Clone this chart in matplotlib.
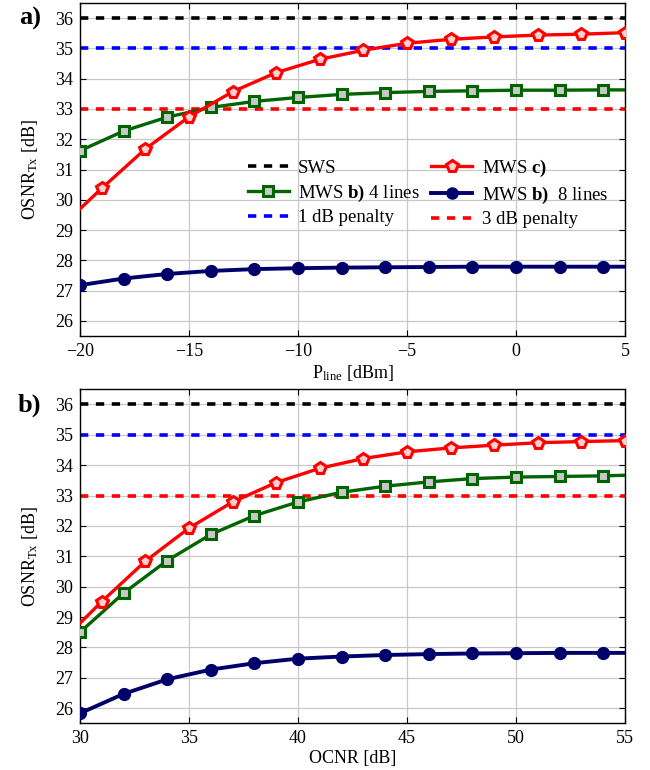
import matplotlib
matplotlib.use("Agg")
import matplotlib.pyplot as plt
from matplotlib.lines import Line2D

plt.rcParams["font.family"] = ["Liberation Serif", "DejaVu Serif"]
plt.rcParams["mathtext.fontset"] = "custom"
plt.rcParams["mathtext.rm"] = "Liberation Serif"
plt.rcParams["mathtext.bf"] = "Liberation Serif:bold"
plt.rcParams["mathtext.it"] = "Liberation Serif:italic"
plt.rcParams["font.size"] = 13

RED = "#FF0000"
GREEN = "#006400"
NAVY = "#00006B"

# reference levels (SWS, 1 dB penalty, 3 dB penalty)
sws_level = 36.0
pen1_level = 35.0
pen3_level = 33.0

# panel a) : OSNR vs launch power
a_red_x = [-20, -19, -17, -15, -13, -11, -9, -7, -5, -3, -1, 1, 3, 5]
a_red_y = [29.70, 30.38, 31.68, 32.74, 33.57, 34.20, 34.64, 34.94, 35.17, 35.30, 35.38, 35.44, 35.47, 35.52]
a_grn_x = [-20, -18, -16, -14, -12, -10, -8, -6, -4, -2, 0, 2, 4, 5]
a_grn_y = [31.62, 32.27, 32.73, 33.05, 33.25, 33.38, 33.48, 33.54, 33.58, 33.60, 33.62, 33.62, 33.63, 33.63]
a_nav_x = [-20, -18, -16, -14, -12, -10, -8, -6, -4, -2, 0, 2, 4, 5]
a_nav_y = [27.18, 27.40, 27.55, 27.65, 27.71, 27.74, 27.76, 27.77, 27.78, 27.79, 27.79, 27.79, 27.79, 27.79]

# panel b) : OSNR vs OCNR
b_red_x = [30, 31, 33, 35, 37, 39, 41, 43, 45, 47, 49, 51, 53, 55]
b_red_y = [28.80, 29.51, 30.84, 31.93, 32.79, 33.43, 33.90, 34.22, 34.44, 34.57, 34.66, 34.74, 34.78, 34.81]
b_grn_x = [30, 32, 34, 36, 38, 40, 42, 44, 46, 48, 50, 52, 54, 55]
b_grn_y = [28.50, 29.79, 30.86, 31.72, 32.34, 32.79, 33.11, 33.31, 33.45, 33.56, 33.61, 33.63, 33.65, 33.67]
b_nav_x = [30, 32, 34, 36, 38, 40, 42, 44, 46, 48, 50, 52, 54, 55]
b_nav_y = [25.83, 26.47, 26.95, 27.27, 27.48, 27.63, 27.70, 27.75, 27.78, 27.80, 27.81, 27.82, 27.82, 27.82]

a_xticks = [-20, -15, -10, -5, 0, 5]
b_xticks = [30, 35, 40, 45, 50, 55]
yticks = list(range(26, 37))

DASH = (0, (2.3, 2.1))


def style_axes(ax, xlim, xticks):
    ax.set_xlim(*xlim)
    ax.set_ylim(25.5, 36.5)
    ax.set_xticks(xticks)
    ax.set_yticks(yticks)
    ax.grid(True, color="#C8C8C8", lw=0.9)
    ax.set_axisbelow(True)
    ax.tick_params(direction="in", top=True, right=True, length=4, labelsize=13, pad=5)
    for sp in ax.spines.values():
        sp.set_linewidth(1.0)
    ax.set_ylabel(r"OSNR$_{\mathrm{Tx}}$ [dB]", labelpad=11)


def draw_panel(ax, red, grn, nav):
    dash = dict(lw=2.6, linestyle=DASH, zorder=2)
    ax.axhline(sws_level, color="black", **dash)
    ax.axhline(pen1_level, color="#0000FF", **dash)
    ax.axhline(pen3_level, color=RED, **dash)
    ax.plot(*grn, color=GREEN, lw=2.4, marker="s", ms=7, mew=2.2,
            mfc="#C8C8C8", mec=GREEN, markevery=slice(0, -1), zorder=3)
    ax.plot(*red, color=RED, lw=2.4, marker="p", ms=8.5, mew=2.2,
            mfc="#FFD0D0", mec=RED, markevery=slice(1, None), zorder=4)
    ax.plot(*nav, color=NAVY, lw=2.8, marker="o", ms=8, mew=1.5,
            mfc=NAVY, mec=NAVY, markevery=slice(0, -1), zorder=3)


fig = plt.figure(figsize=(6.5, 7.7), dpi=100)
ax_a = fig.add_axes([0.1231, 0.5636, 0.8384, 0.4325])
ax_b = fig.add_axes([0.1231, 0.0606, 0.8384, 0.4338])

draw_panel(ax_a, (a_red_x, a_red_y), (a_grn_x, a_grn_y), (a_nav_x, a_nav_y))
draw_panel(ax_b, (b_red_x, b_red_y), (b_grn_x, b_grn_y), (b_nav_x, b_nav_y))
style_axes(ax_a, (-20, 5), a_xticks)
style_axes(ax_b, (30, 55), b_xticks)
ax_a.set_xlabel(r"P$_{\mathrm{line}}$ [dBm]", labelpad=2)
ax_b.set_xlabel("OCNR [dB]", labelpad=2)

dash_h = dict(lw=2.6, linestyle=DASH)
h_sws = Line2D([], [], color="black", **dash_h)
h_p1 = Line2D([], [], color="#0000FF", **dash_h)
h_p3 = Line2D([], [], color=RED, **dash_h)
h_red = Line2D([], [], color=RED, lw=2.4, marker="p", ms=8.5, mew=2.2, mfc="#FFD0D0", mec=RED)
h_grn = Line2D([], [], color=GREEN, lw=2.4, marker="s", ms=7, mew=2.2, mfc="#C8C8C8", mec=GREEN)
h_nav = Line2D([], [], color=NAVY, lw=2.8, marker="o", ms=8, mfc=NAVY, mec=NAVY)
handles = [h_sws, h_grn, h_p1, h_red, h_nav, h_p3]
labels = ["SWS", r"MWS $\mathbf{b)}$ 4 lines", "1 dB penalty",
          r"MWS $\mathbf{c)}$", r"MWS $\mathbf{b)}$  8 lines", "3 dB penalty"]
leg = ax_a.legend(handles, labels, ncol=2, loc="upper left", bbox_to_anchor=(0.28, 0.58),
                  frameon=False, fontsize=13.5, handlelength=2.2, handletextpad=0.5,
                  columnspacing=0.6, labelspacing=0.3, borderpad=0.3)

fig.text(0.03, 0.976, "a)", fontsize=19, fontweight="bold", va="center")
fig.text(0.027, 0.474, "b)", fontsize=19, fontweight="bold", va="center")

fig.savefig("out.png", dpi=100)
